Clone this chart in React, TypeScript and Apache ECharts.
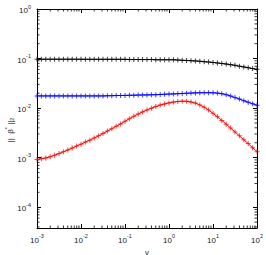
import React, { useEffect, useRef } from "react";
import * as echarts from "echarts";

const gamma = [
  0.001, 0.001259, 0.001585, 0.001995, 0.002512, 0.003162, 0.003981, 0.005012, 0.00631, 0.007943,
  0.01, 0.01259, 0.01585, 0.01995, 0.02512, 0.03162, 0.03981, 0.05012, 0.0631, 0.07943,
  0.1, 0.1259, 0.1585, 0.1995, 0.2512, 0.3162, 0.3981, 0.5012, 0.631, 0.7943,
  1, 1.259, 1.585, 1.995, 2.512, 3.162, 3.981, 5.012, 6.31, 7.943,
  10, 12.59, 15.85, 19.95, 25.12, 31.62, 39.81, 50.12, 63.1, 79.43, 100,
];

const blackSeries = [
  0.0968, 0.0968, 0.0968, 0.0968, 0.0968, 0.0968, 0.0968, 0.0968, 0.0968, 0.0968,
  0.0968, 0.0963, 0.0963, 0.0963, 0.0963, 0.0963, 0.0963, 0.0963, 0.0963, 0.0963,
  0.0963, 0.0954, 0.0954, 0.0954, 0.0954, 0.0954, 0.0954, 0.0946, 0.0946, 0.0946,
  0.0946, 0.0946, 0.0932, 0.0924, 0.0915, 0.0907, 0.0895, 0.0882, 0.0866, 0.085,
  0.0834, 0.0815, 0.0796, 0.0774, 0.0753, 0.0729, 0.0702, 0.0677, 0.0652, 0.0628, 0.0605,
];

const blueSeries = [
  0.01764, 0.01764, 0.01764, 0.01764, 0.01764, 0.01764, 0.01764, 0.01764, 0.01764, 0.01764,
  0.01764, 0.01764, 0.01764, 0.01764, 0.01764, 0.01764, 0.01772, 0.0178, 0.01789, 0.01797,
  0.01805, 0.01814, 0.01822, 0.0183, 0.01839, 0.01848, 0.01857, 0.01865, 0.01883, 0.019,
  0.01918, 0.01936, 0.01954, 0.01972, 0.0199, 0.0201, 0.02028, 0.02037, 0.02047, 0.02047,
  0.02037, 0.0201, 0.01954, 0.01865, 0.01755, 0.01637, 0.0152, 0.01411, 0.0131, 0.01222, 0.0114,
];

const redSeries = [
  0.00092, 0.00095, 0.000986, 0.00104, 0.00112, 0.00121, 0.00131, 0.00143, 0.00156, 0.00171,
  0.00187, 0.00206, 0.00225, 0.00249, 0.00275, 0.00307, 0.00343, 0.00385, 0.00429, 0.0048,
  0.00541, 0.00611, 0.00683, 0.0076, 0.00838, 0.00916, 0.00995, 0.01072, 0.0115, 0.01216,
  0.01274, 0.0132, 0.0136, 0.0138, 0.0137, 0.0133, 0.0126, 0.0116, 0.0104, 0.00912,
  0.00785, 0.00667, 0.00565, 0.00473, 0.00396, 0.0033, 0.00275, 0.0023, 0.00192, 0.00159, 0.00132,
];

const xMin = 0.001;
const xMax = 100;
const yMin = 0.000038;
const yMax = 1;
const minorMultipliers = [2, 3, 4, 5, 6, 7, 8, 9];
const xDecades = [0.001, 0.01, 0.1, 1, 10];
const yDecades = [0.00001, 0.0001, 0.001, 0.01, 0.1];
const yTitle = "{n|||  β}{s|*}{n| ||}{d|2}";

const plus = "path://M2,0H3V2H5V3H3V5H2V3H0V2H2Z";
const FONT = "Liberation Sans, Arial, sans-serif";

const powLabel = (v: number) => {
  const e = Math.log10(v);
  const r = Math.round(e);
  if (Math.abs(e - r) > 1e-6) return "";
  return `{b|10}{s|${r}}`;
};

const labelRich = {
  b: { fontSize: 8, fontFamily: FONT, color: "#222", lineHeight: 11, verticalAlign: "bottom" },
  s: { fontSize: 5.5, fontFamily: FONT, color: "#222", lineHeight: 11, verticalAlign: "top" },
};

export default function App() {
  const ref = useRef<HTMLDivElement>(null);
  useEffect(() => {
    if (!ref.current) return;
    const chart = echarts.init(ref.current, null, { renderer: "svg" });
    const mk = (data: number[], color: string) => ({
      type: "line",
      xAxisIndex: 0,
      yAxisIndex: 0,
      data: gamma.map((g, i) => [g, data[i]]),
      symbol: plus,
      symbolSize: 5,
      showSymbol: true,
      lineStyle: { color, width: 1 },
      itemStyle: { color, opacity: 0.75 },
      z: 3,
    });
    const axisLine = { show: true, onZero: false, lineStyle: { color: "#000", width: 1 } };
    const option: any = {
      animation: false,
      backgroundColor: "#fff",
      grid: { left: 37, right: 9, top: 9, bottom: 27, containLabel: false, outerBoundsMode: "none" },
      graphic: [
        {
          type: "text",
          x: 9,
          y: 130,
          rotation: Math.PI / 2,
          silent: true,
          style: {
            text: yTitle,
            align: "center",
            verticalAlign: "middle",
            fill: "#222",
            rich: {
              n: { fontSize: 8, fontFamily: FONT, fill: "#222", lineHeight: 11, verticalAlign: "bottom" },
              s: { fontSize: 5.5, fontFamily: FONT, fill: "#222", lineHeight: 11, verticalAlign: "top" },
              d: { fontSize: 5.5, fontFamily: FONT, fill: "#222", lineHeight: 11, verticalAlign: "bottom" },
            },
          },
        },
      ],
      xAxis: [
        {
          type: "log",
          logBase: 10,
          min: xMin,
          max: xMax,
          position: "bottom",
          axisLine,
          axisTick: { show: true, inside: true, length: 4, lineStyle: { color: "#000" } },
          splitLine: { show: false },
          axisLabel: { formatter: powLabel, rich: labelRich, margin: 5, color: "#222" },
          name: "γ",
          nameLocation: "middle",
          nameGap: 16,
          nameTextStyle: { fontSize: 8, fontFamily: FONT, color: "#222" },
        },
        {
          type: "log",
          logBase: 10,
          min: xMin,
          max: xMax,
          position: "top",
          axisLine,
          axisTick: { show: true, inside: true, length: 4, lineStyle: { color: "#000" } },
          splitLine: { show: false },
          axisLabel: { show: false },
        },
      ],
      yAxis: [
        {
          type: "log",
          logBase: 10,
          min: yMin,
          max: yMax,
          position: "left",
          axisLine,
          axisTick: { show: true, inside: true, length: 4, lineStyle: { color: "#000" } },
          splitLine: { show: false },
          axisLabel: { formatter: powLabel, rich: labelRich, margin: 6, color: "#222" },
        },
        {
          type: "log",
          logBase: 10,
          min: yMin,
          max: yMax,
          position: "right",
          axisLine,
          axisTick: { show: true, inside: true, length: 4, lineStyle: { color: "#000" } },
          splitLine: { show: false },
          axisLabel: { show: false },
        },
      ],
      series: [
        {
          type: "custom",
          xAxisIndex: 0,
          yAxisIndex: 0,
          silent: true,
          z: 1,
          data: [[1, 0.01]],
          renderItem: (params: any, api: any) => {
            const children: any[] = [];
            const st = { stroke: "#000", lineWidth: 0.8 };
            const L = 2.5;
            xDecades.forEach((d) =>
              minorMultipliers.forEach((m) => {
                const v = d * m;
                if (v <= xMin || v >= xMax) return;
                const b = api.coord([v, yMin]);
                const t = api.coord([v, yMax]);
                children.push({ type: "line", shape: { x1: b[0], y1: b[1], x2: b[0], y2: b[1] - L }, style: st });
                children.push({ type: "line", shape: { x1: t[0], y1: t[1], x2: t[0], y2: t[1] + L }, style: st });
              })
            );
            yDecades.forEach((d) =>
              minorMultipliers.forEach((m) => {
                const v = d * m;
                if (v <= yMin || v >= yMax) return;
                const l = api.coord([xMin, v]);
                const r = api.coord([xMax, v]);
                children.push({ type: "line", shape: { x1: l[0], y1: l[1], x2: l[0] + L, y2: l[1] }, style: st });
                children.push({ type: "line", shape: { x1: r[0], y1: r[1], x2: r[0] - L, y2: r[1] }, style: st });
              })
            );
            return { type: "group", children };
          },
        },
        mk(blackSeries, "#000000"),
        mk(blueSeries, "#0000ff"),
        mk(redSeries, "#ff0000"),
      ],
    };
    chart.setOption(option);
    return () => chart.dispose();
  }, []);
  return (
    <div
      ref={ref}
      style={{ position: "fixed", left: 0, top: 0, width: 266, height: 255, background: "#fff" }}
    />
  );
}
